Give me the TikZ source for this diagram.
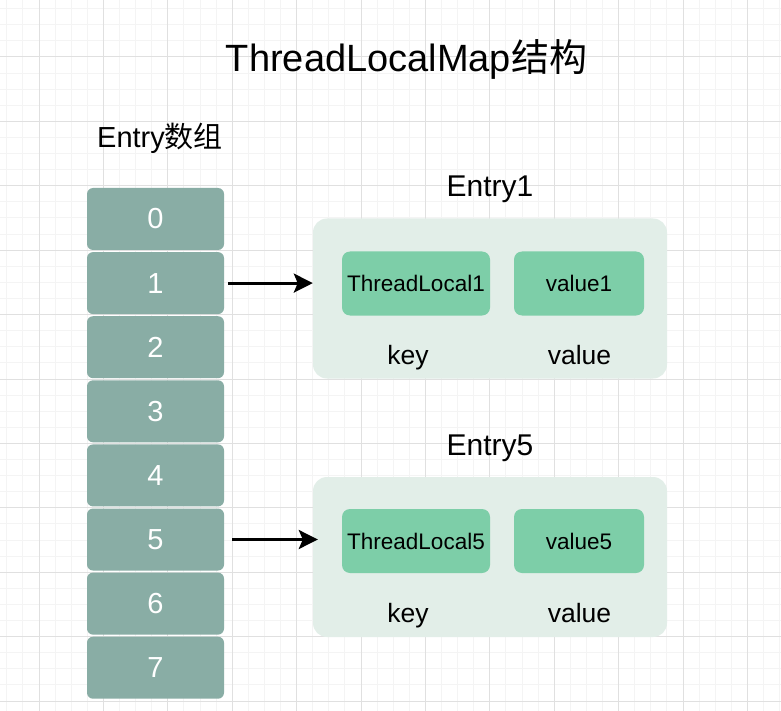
\documentclass[tikz,border=0pt]{standalone}
\usepackage{fontspec}
\setmainfont{Liberation Sans}
\newfontfamily\cjk{Noto Sans CJK SC}
\usetikzlibrary{arrows.meta}
\definecolor{cellgreen}{RGB}{137,173,165}
\definecolor{entrybg}{RGB}{226,238,232}
\definecolor{keygreen}{RGB}{125,206,168}
\definecolor{gridminor}{RGB}{244,244,244}
\definecolor{gridmajor}{RGB}{224,224,224}

\begin{document}
\begin{tikzpicture}[x=1pt, y=-1pt,
	cell/.style={fill=cellgreen, rounded corners=6pt, minimum width=137pt, minimum height=62pt, text=white, font=\fontsize{29}{34}\selectfont},
	entrybox/.style={fill=entrybg, rounded corners=14pt, minimum width=354pt, minimum height=160pt},
	slot/.style={fill=keygreen, rounded corners=8pt, minimum height=64pt, font=\fontsize{22.5}{26}\selectfont},
	lbl/.style={anchor=base, font=\fontsize{26.5}{30}\selectfont},
	ptr/.style={line width=3pt, -{Stealth[length=19pt, width=19pt, inset=4pt]}}]
	\useasboundingbox (0,0) rectangle (781,711);
	\fill[white] (0,0) rectangle (781,711);
	
	% grid
	\foreach \k in {-2,...,46} \draw[gridminor, line width=1pt] ({39+16.1*\k},0) -- ++(0,711);
	\foreach \k in {-3,...,40} \draw[gridminor, line width=1pt] (0,{57+16.1*\k}) -- ++(781,0);
	\foreach \k in {0,...,11} \draw[gridmajor, line width=1pt] ({39+64.4*\k},0) -- ++(0,711);
	\foreach \k in {0,...,10} \draw[gridmajor, line width=1pt] (0,{57+64.4*\k}) -- ++(781,0);
	
	\node[anchor=base, font=\fontsize{38}{44}\selectfont] (title) at (406.5,72) {ThreadLocalMap{\cjk 结构}};
	\node[anchor=base, font=\fontsize{29}{34}\selectfont] (arrlbl) at (160,148) {Entry{\cjk 数组}};
	
	% array
	\foreach \i in {0,...,7}
		\node[cell] (c\i) at (155.5,{219+64.1*\i}) {\i};
	
	% entries
	\node[entrybox] (entry1) at (490,298.5) {};
	\node[entrybox] (entry5) at (490,557) {};
	\node[anchor=base, font=\fontsize{30}{36}\selectfont] (name1) at (490,197) {Entry1};
	\node[anchor=base, font=\fontsize{30}{36}\selectfont] (name5) at (490,455) {Entry5};
	
	\node[slot, minimum width=148pt] (key1) at (416,283.5) {ThreadLocal1};
	\node[slot, minimum width=130pt] (val1) at (579,283.5) {value1};
	\node[slot, minimum width=148pt] (key5) at (416,541) {ThreadLocal5};
	\node[slot, minimum width=130pt] (val5) at (579,541) {value5};
	
	\node[lbl] (k1) at (408,364) {key};
	\node[lbl] (v1) at (579.5,364) {value};
	\node[lbl] (k5) at (408,622) {key};
	\node[lbl] (v5) at (579.5,622) {value};
	
	\draw[ptr, shorten <=4pt] (c1.east) -- (c1.east -| entry1.west);
	\draw[ptr, shorten <=8pt, shorten >=-5pt] (c5.east) -- (c5.east -| entry5.west);
\end{tikzpicture}
\end{document}
